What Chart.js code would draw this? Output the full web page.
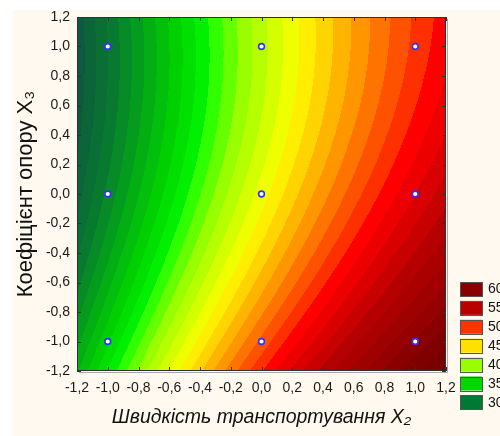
<!DOCTYPE html>
<html>
<head>
<meta charset="utf-8">
<script src="https://cdn.jsdelivr.net/npm/chart.js@4.4.1/dist/chart.umd.min.js"></script>
<style>
  html, body { margin: 0; padding: 0; background: #ffffff; }
  #wrap { width: 500px; height: 436px; }
</style>
</head>
<body>
<div id="wrap"><canvas id="c" width="500" height="436"></canvas></div>
<script>
// ---- data ----
const x2Levels = [-1, 0, 1];            // design levels of X2
const x3Levels = [-1, 0, 1];            // design levels of X3
const responseAtX3Minus1 = [35.8, 49.3, 59.2];  // at X2 = -1, 0, 1
const responseAtX3Zero   = [31.3, 43.5, 53.0];
const responseAtX3Plus1  = [30.0, 41.6, 50.3];
const tickValues = [-1.2, -1.0, -0.8, -0.6, -0.4, -0.2, 0.0, 0.2, 0.4, 0.6, 0.8, 1.0, 1.2];
const legendLevels = ['60', '55', '50', '45', '40', '35', '30'];
const legendColors = ['#8a0000', '#b80000', '#ff3300', '#ffe000', '#99ff00', '#00d800', '#007a33'];
// colour scale of the contour bands (value -> colour)
const colorStopValues = [27, 30, 35, 37, 38, 40, 43, 44, 45, 47, 50, 51, 55, 60, 64];
const colorStopColors = ['#0e5a3e', '#077a30', '#00d000', '#00f000', '#30ff00', '#99ff00', '#f0ff00',
                         '#ffee00', '#ffd400', '#ff9600', '#ff3000', '#ff0000', '#b40000', '#800000', '#660000'];

const xTitle = 'Швидкість транспортування X₂';
const yTitle = 'Коефіцієнт опору X₃';

// ---- helpers ----
const responseRows = [responseAtX3Minus1, responseAtX3Zero, responseAtX3Plus1];
function lagrange(nodes, t) {
  return nodes.map((n, i) => {
    let p = 1;
    nodes.forEach((m, j) => { if (j !== i) p *= (t - m) / (n - m); });
    return p;
  });
}
function surface(x, y) {
  const lx = lagrange(x2Levels, x), ly = lagrange(x3Levels, y);
  let s = 0;
  for (let i = 0; i < x3Levels.length; i++)
    for (let j = 0; j < x2Levels.length; j++)
      s += responseRows[i][j] * ly[i] * lx[j];
  return s;
}
function hexToRgb(h) {
  return [parseInt(h.slice(1, 3), 16), parseInt(h.slice(3, 5), 16), parseInt(h.slice(5, 7), 16)];
}
const stopRgb = colorStopColors.map(hexToRgb);
function cmap(v) {
  const n = colorStopValues.length;
  if (v <= colorStopValues[0]) return stopRgb[0];
  if (v >= colorStopValues[n - 1]) return stopRgb[n - 1];
  for (let i = 0; i < n - 1; i++) {
    const a = colorStopValues[i], b = colorStopValues[i + 1];
    if (v >= a && v <= b) {
      const f = (v - a) / (b - a);
      return stopRgb[i].map((c, k) => Math.round(c + (stopRgb[i + 1][k] - c) * f));
    }
  }
  return stopRgb[n - 1];
}
function fmt(v) { return (Math.round(v * 10) / 10).toFixed(1).replace('.', ','); }

const designPoints = [];
x3Levels.forEach(y => x2Levels.forEach(x => designPoints.push({ x: x, y: y })));

// ---- plugins ----
const bgPlugin = {
  id: 'bg',
  beforeDraw(chart) {
    const ctx = chart.ctx;
    ctx.save();
    ctx.fillStyle = '#ffffff';
    ctx.fillRect(0, 0, chart.width, chart.height);
    ctx.fillStyle = '#fff9ef';
    ctx.fillRect(13, 10, chart.width - 13, chart.height - 10);
    ctx.restore();
  }
};

const contourPlugin = {
  id: 'contour',
  beforeDatasetsDraw(chart) {
    const { ctx, chartArea: a, scales } = chart;
    const xs = scales.x, ys = scales.y;
    const L = Math.round(a.left), T = Math.round(a.top);
    const w = Math.round(a.right) - L, h = Math.round(a.bottom) - T;
    const img = ctx.createImageData(w, h);
    for (let py = 0; py < h; py++) {
      const yv = ys.getValueForPixel(T + py + 0.5);
      for (let px = 0; px < w; px++) {
        const xv = xs.getValueForPixel(L + px + 0.5);
        const band = Math.floor(surface(xv, yv));
        const c = cmap(band);
        const o = (py * w + px) * 4;
        img.data[o] = c[0]; img.data[o + 1] = c[1]; img.data[o + 2] = c[2]; img.data[o + 3] = 255;
      }
    }
    ctx.putImageData(img, L, T);
    // frame, shadow and inward ticks
    ctx.save();
    ctx.strokeStyle = '#a8a8a8';
    ctx.lineWidth = 1;
    ctx.beginPath();
    ctx.moveTo(L + w + 1.5, T + 2); ctx.lineTo(L + w + 1.5, T + h + 1.5); ctx.lineTo(L + 2, T + h + 1.5);
    ctx.stroke();
    ctx.strokeStyle = '#303030';
    ctx.strokeRect(L + 0.5, T + 0.5, w - 1, h - 1);
    ctx.beginPath();
    tickValues.forEach(t => {
      const px = Math.round(xs.getPixelForValue(t)) + 0.5;
      const py = Math.round(ys.getPixelForValue(t)) + 0.5;
      ctx.moveTo(px, T); ctx.lineTo(px, T + 4);
      ctx.moveTo(px, T + h); ctx.lineTo(px, T + h - 4);
      ctx.moveTo(L, py); ctx.lineTo(L + 4, py);
      ctx.moveTo(L + w, py); ctx.lineTo(L + w - 4, py);
    });
    ctx.stroke();
    ctx.restore();
  }
};

const legendPlugin = {
  id: 'levelLegend',
  afterDraw(chart) {
    const ctx = chart.ctx;
    ctx.save();
    ctx.font = '14px "Liberation Sans", Arial, sans-serif';
    ctx.textBaseline = 'middle';
    ctx.textAlign = 'left';
    legendLevels.forEach((lab, i) => {
      const top = 282 + i * 18.9;
      ctx.fillStyle = legendColors[i];
      ctx.fillRect(460, top, 22, 14);
      ctx.strokeStyle = '#555555';
      ctx.lineWidth = 1;
      ctx.strokeRect(460.5, Math.round(top) + 0.5, 22, 14);
      ctx.fillStyle = '#111111';
      ctx.fillText(lab, 488, top + 7.5);
    });
    ctx.restore();
  }
};

// ---- chart ----
new Chart(document.getElementById('c'), {
  type: 'scatter',
  data: {
    datasets: [{
      label: 'design points',
      data: designPoints,
      pointRadius: 2.9,
      pointBackgroundColor: '#ffffff',
      pointBorderColor: '#3030ff',
      pointBorderWidth: 1.6
    }]
  },
  options: {
    responsive: false,
    animation: false,
    devicePixelRatio: 1,
    layout: { padding: { top: 17, right: 54, left: 0, bottom: 0 } },
    plugins: { legend: { display: false }, tooltip: { enabled: false } },
    scales: {
      x: {
        type: 'linear', min: -1.2, max: 1.2,
        afterFit(s) { s.height = 65; },
        afterBuildTicks(s) { s.ticks = tickValues.map(v => ({ value: v })); },
        grid: { display: false, drawTicks: false },
        border: { display: false },
        ticks: { padding: 9, color: '#1a1a1a', font: { family: '"Liberation Sans", Arial, sans-serif', size: 14 }, callback: v => fmt(v), maxRotation: 0, autoSkip: false },
        title: { display: true, text: xTitle, color: '#111111', padding: { top: 0, bottom: 7 },
                 font: { family: '"Liberation Sans", Arial, sans-serif', size: 19.5, style: 'italic' } }
      },
      y: {
        type: 'linear', min: -1.2, max: 1.2,
        afterFit(s) { s.width = 77; },
        afterBuildTicks(s) { s.ticks = tickValues.map(v => ({ value: v })); },
        grid: { display: false, drawTicks: false },
        border: { display: false },
        ticks: { padding: 7, color: '#1a1a1a', font: { family: '"Liberation Sans", Arial, sans-serif', size: 14 }, callback: v => fmt(v), autoSkip: false },
        title: { display: true, text: yTitle, color: '#111111', padding: { top: 13, bottom: 0 },
                 font: { family: '"Liberation Sans", Arial, sans-serif', size: 22 } }
      }
    }
  },
  plugins: [bgPlugin, contourPlugin, legendPlugin]
});
</script>
</body>
</html>
